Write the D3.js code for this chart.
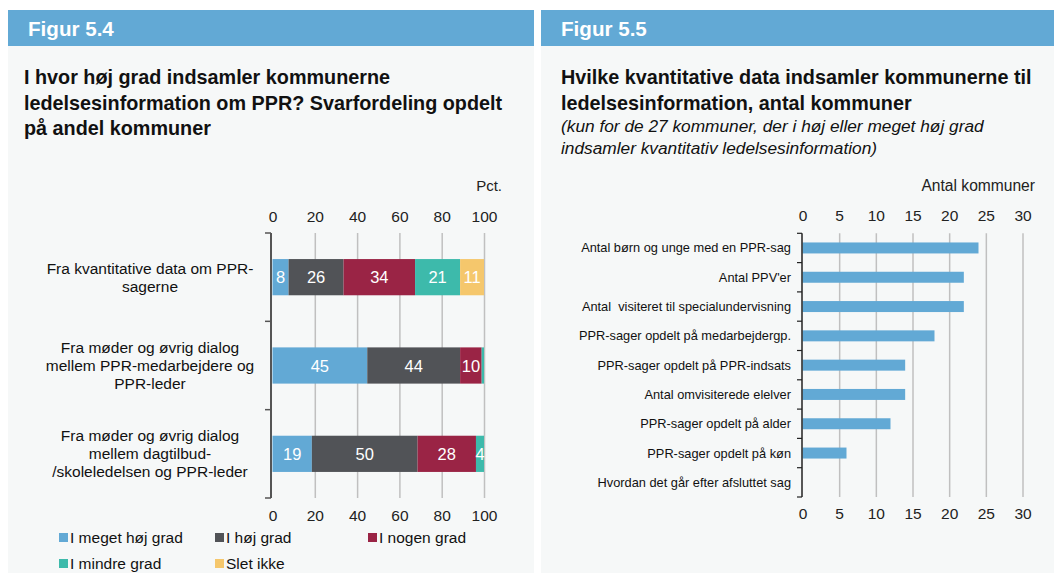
<!DOCTYPE html>
<html><head><meta charset="utf-8">
<script src="https://cdn.jsdelivr.net/npm/d3@7"></script>
<style>
body{margin:0;background:#fff;}
svg{display:block;font-family:"Liberation Sans",Arial,sans-serif;}
text{white-space:pre;}
</style></head>
<body><svg id="c" width="1054" height="573"></svg>
<script>
// ---- Figure 5.4 data ----
const leftCategories = [
  "Fra kvantitative data om PPR-\nsagerne",
  "Fra møder og øvrig dialog\nmellem PPR-medarbejdere og\nPPR-leder",
  "Fra møder og øvrig dialog\nmellem dagtilbud-\n/skoleledelsen og PPR-leder"
];
const seriesNames = ["I meget høj grad","I høj grad","I nogen grad","I mindre grad","Slet ikke"];
const meget = [7.6, 44.8, 18.6];
const hoej   = [26.0, 43.9, 50.0];
const nogen  = [33.8, 10.2, 27.6];
const mindre = [21.3, 1.1, 3.8];
const slet   = [11.3, 0, 0];
const leftTicks = [0,20,40,60,80,100];
const seriesColors = ["#62a9d5","#515357","#9a2445","#3dbaab","#f5c76c"];

// ---- Figure 5.5 data ----
const rightCategories = [
  "Antal børn og unge med en PPR-sag",
  "Antal PPV'er",
  "Antal  visiteret til specialundervisning",
  "PPR-sager opdelt på medarbejdergp.",
  "PPR-sager opdelt på PPR-indsats",
  "Antal omvisiterede elelver",
  "PPR-sager opdelt på alder",
  "PPR-sager opdelt på køn",
  "Hvordan det går efter afsluttet sag"
];
const rightValues = [24, 22, 22, 18, 14, 14, 12, 6, 0];
const rightTicks = [0,5,10,15,20,25,30];

const svg = d3.select("#c");
const HEADER = "#62a9d5", PANEL = "#f6f8f8", GRID = "#c0c0c0", AXIS = "#555";

// panels
function panel(x0, x1, title) {
  svg.append("rect").attr("x",x0).attr("y",46).attr("width",x1-x0).attr("height",573-46).attr("fill",PANEL);
  svg.append("rect").attr("x",x0).attr("y",10).attr("width",x1-x0).attr("height",36).attr("fill",HEADER);
  svg.append("text").attr("x",x0+20).attr("y",35.5).attr("fill","#fff").attr("font-weight","bold")
    .attr("font-size",20.6).text(title);
}
panel(8, 534, "Figur 5.4");
panel(541, 1054, "Figur 5.5");

function lines(x, ys, arr, attrs) {
  arr.forEach((t,i)=>{
    const s = svg.append("text").attr("x",x).attr("y",ys[i]).text(t);
    Object.entries(attrs).forEach(([k,v])=>s.attr(k,v));
  });
}
lines(24, [84,110,135], ["I hvor høj grad indsamler kommunerne","ledelsesinformation om PPR? Svarfordeling opdelt","på andel kommuner"],
  {"font-size":19.8,"font-weight":"bold","fill":"#111"});
lines(561, [84,110], ["Hvilke kvantitative data indsamler kommunerne til","ledelsesinformation, antal kommuner"],
  {"font-size":19.8,"font-weight":"bold","fill":"#111"});
lines(561, [132,154], ["(kun for de 27 kommuner, der i høj eller meget høj grad","indsamler kvantitativ ledelsesinformation)"],
  {"font-size":17.3,"font-style":"italic","fill":"#111"});

// ---------- Left chart ----------
const xL = d3.scaleLinear().domain([0,100]).range([272.5,484]);
const yL = d3.scaleBand().domain(leftCategories).range([233,498]).paddingInner(0.59).paddingOuter(0.295);
const gL = svg.append("g");

// gridlines
gL.append("g").attr("transform","translate(0,233)")
  .call(d3.axisBottom(xL).tickValues(leftTicks.slice(1)).tickSize(265).tickFormat(""))
  .call(g=>g.select(".domain").remove())
  .call(g=>g.selectAll("line").attr("stroke",GRID).attr("stroke-width",1.5));
// tick labels top & bottom
gL.append("g").attr("transform","translate(0,222)")
  .call(d3.axisTop(xL).tickValues(leftTicks).tickSize(0).tickPadding(0))
  .call(g=>g.select(".domain").remove())
  .call(g=>g.selectAll("text").attr("font-size",15.5).attr("fill","#222").attr("font-family","Liberation Sans, Arial, sans-serif"));
gL.append("g").attr("transform","translate(0,510)")
  .call(d3.axisBottom(xL).tickValues(leftTicks).tickSize(0).tickPadding(0))
  .call(g=>g.select(".domain").remove())
  .call(g=>g.selectAll("text").attr("font-size",15.5).attr("fill","#222").attr("font-family","Liberation Sans, Arial, sans-serif"));
svg.append("text").attr("x",502).attr("y",191).attr("text-anchor","end").attr("font-size",15).attr("fill","#222").text("Pct.");

// stacked bars
const rows = leftCategories.map((c,i)=>({cat:c, v:[meget[i],hoej[i],nogen[i],mindre[i],slet[i]]}));
rows.forEach(r=>{
  let acc = 0;
  r.v.forEach((v,k)=>{
    const x0 = acc; acc += v;
    if (v<=0) return;
    gL.append("rect").attr("x",xL(x0)).attr("y",yL(r.cat)).attr("width",xL(acc)-xL(x0)).attr("height",yL.bandwidth())
      .attr("fill",seriesColors[k]);
    if (v>=3) {
      gL.append("text").attr("x",(xL(x0)+xL(acc))/2).attr("y",yL(r.cat)+yL.bandwidth()/2+6)
        .attr("text-anchor","middle").attr("font-size",16.5).attr("fill","#fff").text(d3.format(".0f")(v));
    }
  });
});
// y axis
gL.append("line").attr("x1",271).attr("x2",271).attr("y1",233).attr("y2",498).attr("stroke",AXIS).attr("stroke-width",2);
const bL = leftCategories.map((c,i)=>233 + i*yL.step()).concat([498]);
gL.selectAll(".tk").data(bL).enter().append("line").attr("x1",265).attr("x2",271).attr("y1",d=>d).attr("y2",d=>d)
  .attr("stroke",AXIS).attr("stroke-width",1.5);
// category labels
leftCategories.forEach(c=>{
  const ls = c.split("\n");
  const cy = yL(c)+yL.bandwidth()/2;
  ls.forEach((t,i)=>{
    gL.append("text").attr("x",150).attr("y",cy + (i-(ls.length-1)/2)*18 + 5.5)
      .attr("text-anchor","middle").attr("font-size",15.5).attr("fill","#111").text(t);
  });
});
// legend
const legPos = [[59,537.5],[215,537.5],[368,537.5],[59,563.5],[215,563.5]];
seriesNames.forEach((n,i)=>{
  const [lx,ly] = legPos[i];
  svg.append("rect").attr("x",lx).attr("y",ly-4.5).attr("width",9).attr("height",9).attr("fill",seriesColors[i]);
  svg.append("text").attr("x",lx+11).attr("y",ly+5.5).attr("font-size",15.5).attr("fill","#111").text(n);
});

// ---------- Right chart ----------
const xR = d3.scaleLinear().domain([0,30]).range([802.5,1022.5]);
const yR = d3.scaleBand().domain(rightCategories).range([233.3,497]).paddingInner(0.625).paddingOuter(0.3125);
const gR = svg.append("g");
gR.append("g").attr("transform","translate(0,233.3)")
  .call(d3.axisBottom(xR).tickValues(rightTicks.slice(1)).tickSize(263.7).tickFormat(""))
  .call(g=>g.select(".domain").remove())
  .call(g=>g.selectAll("line").attr("stroke",GRID).attr("stroke-width",1.5));
gR.append("g").attr("transform","translate(0,221)")
  .call(d3.axisTop(xR).tickValues(rightTicks).tickSize(0).tickPadding(0))
  .call(g=>g.select(".domain").remove())
  .call(g=>g.selectAll("text").attr("font-size",15.5).attr("fill","#222").attr("font-family","Liberation Sans, Arial, sans-serif"));
gR.append("g").attr("transform","translate(0,508)")
  .call(d3.axisBottom(xR).tickValues(rightTicks).tickSize(0).tickPadding(0))
  .call(g=>g.select(".domain").remove())
  .call(g=>g.selectAll("text").attr("font-size",15.5).attr("fill","#222").attr("font-family","Liberation Sans, Arial, sans-serif"));
svg.append("text").attr("x",1035).attr("y",191).attr("text-anchor","end").attr("font-size",15.6).attr("fill","#222").text("Antal kommuner");

gR.selectAll(".bar").data(rightCategories).enter().append("rect")
  .attr("x",xR(0)).attr("y",d=>yR(d)).attr("height",yR.bandwidth())
  .attr("width",(d,i)=>xR(rightValues[i])-xR(0)).attr("fill","#62a9d5");
gR.append("line").attr("x1",802).attr("x2",802).attr("y1",233.3).attr("y2",497).attr("stroke","#222").attr("stroke-width",1.5);
const bR = rightCategories.map((c,i)=>233.3 + i*yR.step()).concat([497]);
gR.selectAll(".tk").data(bR).enter().append("line").attr("x1",797).attr("x2",802).attr("y1",d=>d).attr("y2",d=>d)
  .attr("stroke","#222").attr("stroke-width",1.2);
gR.selectAll(".cl").data(rightCategories).enter().append("text")
  .attr("x",791).attr("y",d=>yR(d)+yR.bandwidth()/2+4.5).attr("text-anchor","end")
  .attr("font-size",12.8).attr("fill","#111").text(d=>d);
</script></body></html>
